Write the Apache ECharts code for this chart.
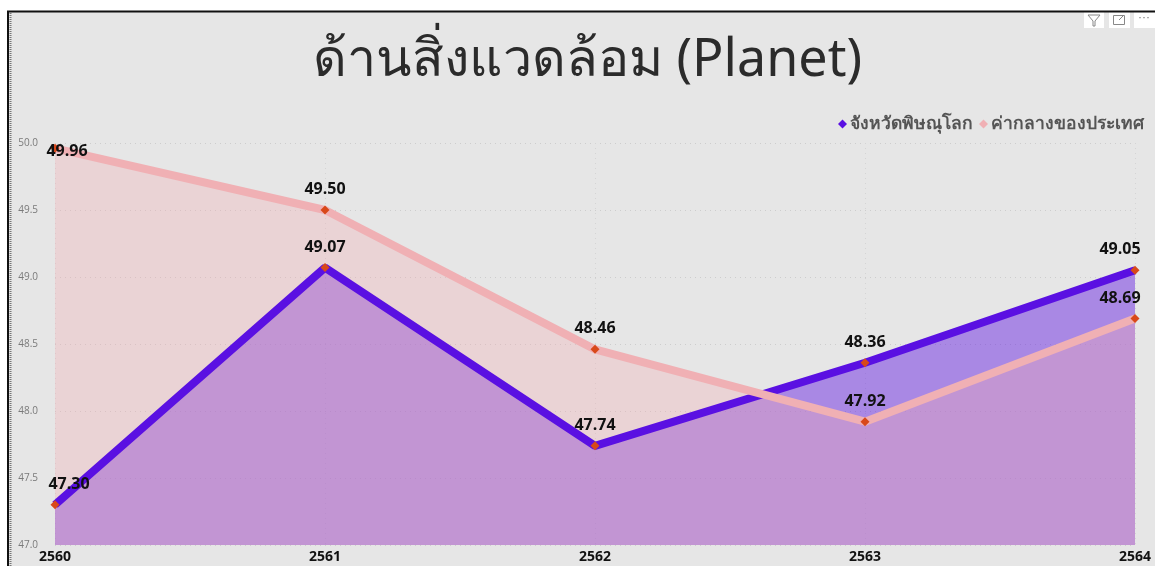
<!DOCTYPE html>
<html>
<head>
<meta charset="utf-8">
<script src="https://cdn.jsdelivr.net/npm/echarts@6/dist/echarts.min.js"></script>
<style>
  html, body { margin: 0; padding: 0; background: #ffffff; }
  #chart { width: 1155px; height: 566px; }
</style>
</head>
<body>
<div id="chart"></div>
<script>
// Years (Buddhist era) and scores for the environment dimension
const years = ['2560', '2561', '2562', '2563', '2564'];
const provinceName = 'จังหวัดพิษณุโลก';
const provinceValues = [47.30, 49.07, 47.74, 48.36, 49.05];
const nationalName = 'ค่ากลางของประเทศ';
const nationalValues = [49.96, 49.50, 48.46, 47.92, 48.69];
const yTicks = { min: 47, max: 50, interval: 0.5 };

const purple = '#5a10e2';
const pink = '#f0b0b4';
const markerColor = '#d8481a';

// Per-point label nudges for points at the plot edges
const provinceLabelOffsets = [[14, 0], null, null, null, [-15, 0]];
const nationalLabelOffsets = [[12, 24], null, null, null, [-15, 0]];

function buildData(values, offsets) {
  return values.map((v, i) => {
    const item = { value: v };
    if (offsets[i]) item.label = { offset: offsets[i] };
    return item;
  });
}

const labelStyle = {
  show: true,
  position: 'top',
  distance: 8,
  color: '#111111',
  fontSize: 16,
  fontWeight: 'bold',
  fontFamily: "'Open Sans', 'Noto Sans', sans-serif",
  formatter: p => p.value.toFixed(2)
};

// Filled band under a series, drawn beneath both lines
function areaSeries(name, values, color, opacity) {
  return {
    name: name,
    type: 'line',
    data: values,
    symbol: 'none',
    silent: true,
    lineStyle: { width: 0, opacity: 0 },
    itemStyle: { color: color },
    areaStyle: { color: color, opacity: opacity },
    label: { show: false },
    z: 1
  };
}

// The line itself with diamond markers and value labels
function lineSeries(name, values, offsets, color) {
  return {
    name: name,
    type: 'line',
    data: buildData(values, offsets),
    symbol: 'diamond',
    symbolSize: 9,
    showAllSymbol: true,
    lineStyle: { color: color, width: 8 },
    itemStyle: { color: markerColor, borderWidth: 0 },
    label: labelStyle,
    z: 2
  };
}

const chart = echarts.init(document.getElementById('chart'));
chart.setOption({
  backgroundColor: '#e6e6e6',
  animation: false,
  title: {
    text: 'ด้านสิ่งแวดล้อม (Planet)',
    left: 308,
    top: 30,
    textStyle: {
      color: '#2b2b2b',
      fontSize: 52,
      fontWeight: 'normal',
      fontFamily: "'Comic Sans MS', 'Noto Sans', sans-serif"
    }
  },
  legend: {
    right: 6,
    top: 110,
    itemGap: 6,
    itemWidth: 9,
    itemHeight: 9,
    icon: 'diamond',
    textStyle: {
      color: '#555555',
      fontSize: 17.5,
      fontWeight: 'bold',
      fontFamily: "'Noto Sans', sans-serif",
      padding: [0, 0, 0, -2]
    },
    data: [
      { name: provinceName, itemStyle: { color: purple } },
      { name: nationalName, itemStyle: { color: pink } }
    ]
  },
  grid: { left: 55, right: 20, top: 143, bottom: 21 },
  xAxis: {
    type: 'category',
    data: years,
    boundaryGap: false,
    axisLine: { show: false },
    axisTick: { show: false },
    axisLabel: {
      color: '#111111',
      fontSize: 14,
      fontWeight: 'bold',
      fontFamily: "'Open Sans', sans-serif",
      margin: 5
    },
    splitLine: { show: true, lineStyle: { color: '#d4d4d4', type: [1, 4], width: 1 } }
  },
  yAxis: {
    type: 'value',
    min: yTicks.min,
    max: yTicks.max,
    interval: yTicks.interval,
    axisLine: { show: false },
    axisTick: { show: false },
    axisLabel: {
      color: '#7a7a7a',
      fontSize: 10,
      fontFamily: "'Open Sans', sans-serif",
      margin: 17,
      formatter: v => v.toFixed(1)
    },
    splitLine: { show: true, lineStyle: { color: '#cdcdcd', type: [1, 4], width: 1 } }
  },
  series: [
    areaSeries(provinceName, provinceValues, purple, 0.44),
    areaSeries(nationalName, nationalValues, pink, 0.35),
    lineSeries(provinceName, provinceValues, provinceLabelOffsets, purple),
    lineSeries(nationalName, nationalValues, nationalLabelOffsets, pink)
  ],
  graphic: [
    // Frame: white margin strips with a black edge and dotted inner border on the left
    { type: 'rect', shape: { x: 0, y: 0, width: 1155, height: 11 }, style: { fill: '#ffffff' }, silent: true, z: 100 },
    { type: 'rect', shape: { x: 0, y: 0, width: 7, height: 566 }, style: { fill: '#ffffff' }, silent: true, z: 100 },
    { type: 'line', shape: { x1: 7, y1: 11.5, x2: 1155, y2: 11.5 }, style: { stroke: '#111111', lineWidth: 2 }, silent: true, z: 101 },
    { type: 'line', shape: { x1: 8, y1: 11, x2: 8, y2: 566 }, style: { stroke: '#111111', lineWidth: 2 }, silent: true, z: 101 },
    { type: 'line', shape: { x1: 10.5, y1: 13, x2: 10.5, y2: 566 }, style: { stroke: '#777777', lineWidth: 2, lineDash: [1, 1] }, silent: true, z: 101 },
    // Visual header icons: filter, focus, more options
    { type: 'rect', shape: { x: 1084, y: 12, width: 20, height: 16 }, style: { fill: '#ffffff' }, silent: true, z: 100 },
    { type: 'polyline', shape: { points: [[1088, 15], [1100, 15], [1095, 21], [1095, 26], [1093, 26], [1093, 21], [1088, 15]] }, style: { stroke: '#888888', fill: null, lineWidth: 1 }, silent: true, z: 101 },
    { type: 'rect', shape: { x: 1109, y: 12, width: 21, height: 16 }, style: { fill: '#ffffff' }, silent: true, z: 100 },
    { type: 'rect', shape: { x: 1113.5, y: 15.5, width: 11, height: 9 }, style: { stroke: '#888888', fill: null, lineWidth: 1 }, silent: true, z: 101 },
    { type: 'line', shape: { x1: 1119, y1: 20, x2: 1124, y2: 15 }, style: { stroke: '#888888', lineWidth: 1 }, silent: true, z: 101 },
    { type: 'rect', shape: { x: 1134, y: 12, width: 21, height: 16 }, style: { fill: '#ffffff' }, silent: true, z: 100 },
    { type: 'text', x: 1144, y: 18, style: { text: '···', fill: '#777777', fontSize: 12, align: 'center', verticalAlign: 'middle' }, silent: true, z: 101 }
  ]
});
</script>
</body>
</html>
